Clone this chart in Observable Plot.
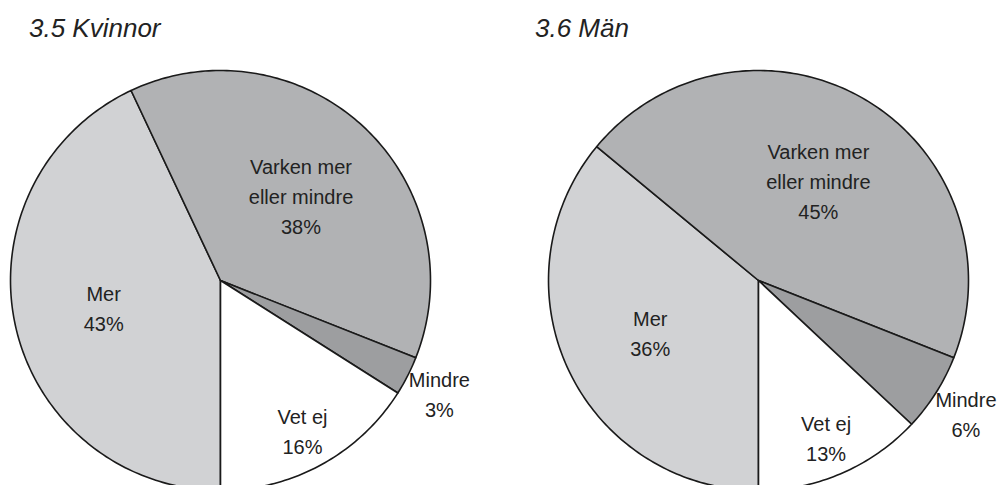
<!DOCTYPE html>
<html><head><meta charset="utf-8">
<script src="https://cdn.jsdelivr.net/npm/d3@7"></script>
<script src="https://cdn.jsdelivr.net/npm/@observablehq/plot@0.6"></script>
<style>
body{margin:0;background:#fff;}
#wrap{position:relative;width:1002px;height:485px;overflow:hidden;}
#chart{position:absolute;left:0;top:0;}
.title{position:absolute;top:13px;font:italic 26px "Liberation Sans",Arial,sans-serif;line-height:30px;color:#222;white-space:nowrap;}
</style></head><body>
<div id="wrap"><div id="chart"></div></div>
<script>
// ---- data ----
const panels = ["3.5 Kvinnor", "3.6 Män"];
const categories = ["Mer", "Varken mer eller mindre", "Mindre", "Vet ej"];
const categoryLines = ["Mer", "Varken mer\neller mindre", "Mindre", "Vet ej"];
const kvinnor = [43, 38, 3, 16];
const man = [36, 45, 6, 13];
const series = [kvinnor, man];

// ---- styles / layout ----
const colors = ["#d1d2d4", "#b1b2b4", "#9d9ea0", "#ffffff"];
const W = 1002, H = 485, R = 210;
const centersPx = [[220, 280], [758, 280]];
const titleLeft = [29, 535];
const labelRadius = [0.57, 0.56, 1.17, 0.81];
const font = '"Liberation Sans", Arial, sans-serif';

// convert layout to data units (radius = 1)
const ox = centersPx[0][0], oy = centersPx[0][1];
const centers = centersPx.map(([px, py]) => [(px - ox) / R, (oy - py) / R]);

const pie = d3.pie().sort(null).value(d => d).startAngle(Math.PI).endAngle(3 * Math.PI);

const slices = [];
const labels = [];
series.forEach((vals, p) => {
  const [cx, cy] = centers[p];
  pie(vals).forEach((a, i) => {
    const key = p + "-" + i;
    const n = Math.max(2, Math.ceil((a.endAngle - a.startAngle) / (Math.PI / 180)));
    slices.push({key, cat: categories[i], x: cx, y: cy});
    for (let k = 0; k <= n; k++) {
      const t = a.startAngle + (a.endAngle - a.startAngle) * k / n;
      slices.push({key, cat: categories[i], x: cx + Math.sin(t), y: cy + Math.cos(t)});
    }
    slices.push({key, cat: categories[i], x: cx, y: cy});
    const mid = (a.startAngle + a.endAngle) / 2;
    const lr = labelRadius[i];
    labels.push({
      x: cx + lr * Math.sin(mid),
      y: cy + lr * Math.cos(mid),
      text: categoryLines[i] + "\n" + vals[i] + "%"
    });
  });
});

const chart = Plot.plot({
  width: W,
  height: H,
  margin: 0,
  x: {domain: [-ox / R, (W - ox) / R], axis: null},
  y: {domain: [(oy - H) / R, oy / R], axis: null},
  color: {domain: categories, range: colors},
  style: {background: "white", fontFamily: font},
  marks: [
    Plot.line(slices, {x: "x", y: "y", z: "key", fill: "cat", stroke: "#1a1a1a", strokeWidth: 1.6, strokeLinejoin: "round", curve: "linear"}),
    Plot.text(labels, {x: "x", y: "y", text: "text", fontSize: 20, lineHeight: 1.5, fill: "#222", fontFamily: font})
  ]
});
const wrap = document.getElementById("wrap");
document.getElementById("chart").appendChild(chart);
panels.forEach((t, i) => {
  const d = document.createElement("div");
  d.className = "title";
  d.style.left = titleLeft[i] + "px";
  d.textContent = t;
  wrap.appendChild(d);
});
</script>
</body></html>
